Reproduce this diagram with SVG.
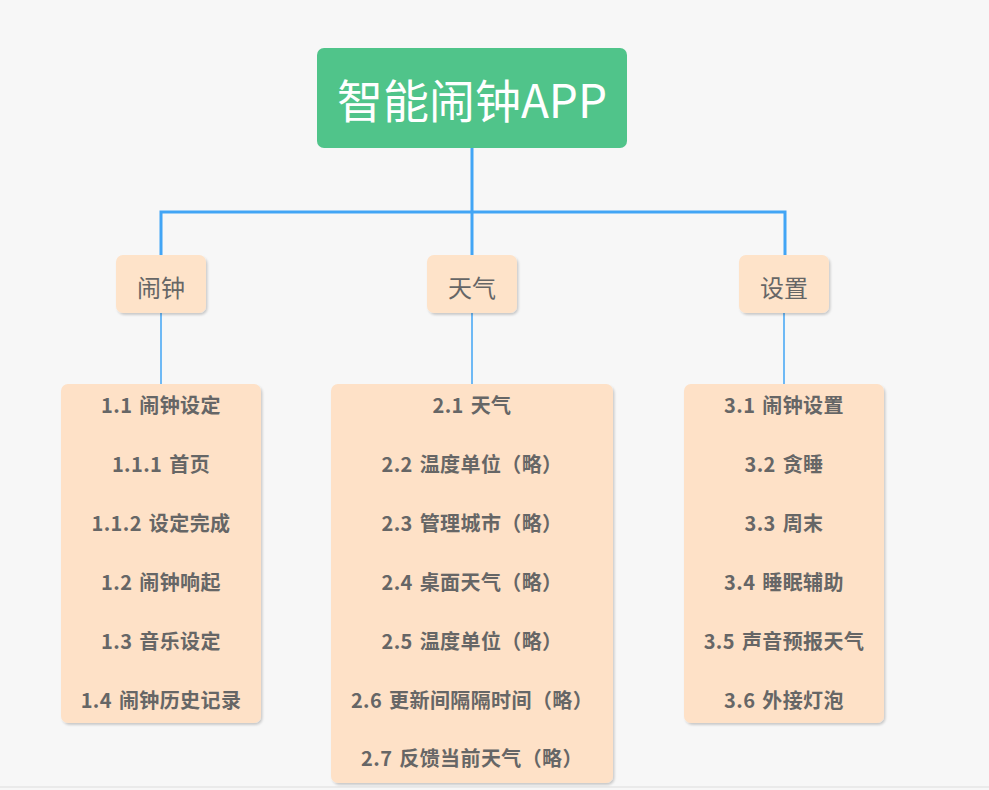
<svg xmlns="http://www.w3.org/2000/svg" width="989" height="790" viewBox="0 0 989 790">
<defs>
<filter id="sh" x="-10%" y="-10%" width="125%" height="125%">
<feDropShadow dx="1.5" dy="2" stdDeviation="1.2" flood-color="#000" flood-opacity="0.18"/>
</filter>
<style>
.root{fill:#50c48a}
.rt{font-family:"Noto Sans CJK SC","Noto Sans",sans-serif;font-size:46px;fill:#fff;text-anchor:middle}
.br{fill:#fee3c9;filter:url(#sh)}
.bt{font-family:"Noto Sans CJK SC","Noto Sans",sans-serif;font-size:24px;fill:#666;text-anchor:middle}
.ls{fill:#fee1c7;filter:url(#sh)}
.lt{font-family:"Noto Sans CJK SC","Noto Sans",sans-serif;font-size:20px;font-weight:bold;fill:#666;text-anchor:middle;letter-spacing:0.4px;word-spacing:2px}
.c1{fill:none;stroke:#42a5f5;stroke-width:3}
.c2{fill:none;stroke:#42a5f5;stroke-width:1.5}
</style>
</defs>
<rect width="989" height="790" fill="#f7f7f7"/>
<line x1="0" y1="787" x2="989" y2="787" stroke="#dddddd" stroke-width="1"/>
<g id="connectors">
<path class="c1" d="M472 148 V212 M161 256 V212 H785 V256 M472 212 V256"/>
<path class="c2" d="M161 313 V384 M472 313 V384 M784 313 V384"/>
</g>
<g id="root">
<rect class="root" x="317" y="48" width="310" height="100" rx="7"/>
<text class="rt" x="472" y="118">智能闹钟APP</text>
</g>
<g id="b1">
<rect class="br" x="116" y="255" width="90" height="58" rx="7"/>
<text class="bt" x="161" y="297">闹钟</text>
</g>
<g id="b2">
<rect class="br" x="427" y="255" width="90" height="58" rx="7"/>
<text class="bt" x="472" y="297">天气</text>
</g>
<g id="b3">
<rect class="br" x="739" y="255" width="90" height="58" rx="7"/>
<text class="bt" x="784" y="297">设置</text>
</g>
<g id="l1">
<rect class="ls" x="61" y="384" width="200" height="339" rx="7"/>
<text class="lt" x="161" y="413">1.1 闹钟设定</text>
<text class="lt" x="161" y="472">1.1.1 首页</text>
<text class="lt" x="161" y="531">1.1.2 设定完成</text>
<text class="lt" x="161" y="590">1.2 闹钟响起</text>
<text class="lt" x="161" y="649">1.3 音乐设定</text>
<text class="lt" x="161" y="708">1.4 闹钟历史记录</text>
</g>
<g id="l2">
<rect class="ls" x="331" y="384" width="282" height="399" rx="7"/>
<text class="lt" x="472" y="413">2.1 天气</text>
<text class="lt" x="472" y="472">2.2 温度单位（略）</text>
<text class="lt" x="472" y="531">2.3 管理城市（略）</text>
<text class="lt" x="472" y="590">2.4 桌面天气（略）</text>
<text class="lt" x="472" y="649">2.5 温度单位（略）</text>
<text class="lt" x="472" y="708">2.6 更新间隔隔时间（略）</text>
<text class="lt" x="472" y="766">2.7 反馈当前天气（略）</text>
</g>
<g id="l3">
<rect class="ls" x="684" y="384" width="200" height="339" rx="7"/>
<text class="lt" x="784" y="413">3.1 闹钟设置</text>
<text class="lt" x="784" y="472">3.2 贪睡</text>
<text class="lt" x="784" y="531">3.3 周末</text>
<text class="lt" x="784" y="590">3.4 睡眠辅助</text>
<text class="lt" x="784" y="649">3.5 声音预报天气</text>
<text class="lt" x="784" y="708">3.6 外接灯泡</text>
</g>
</svg>
